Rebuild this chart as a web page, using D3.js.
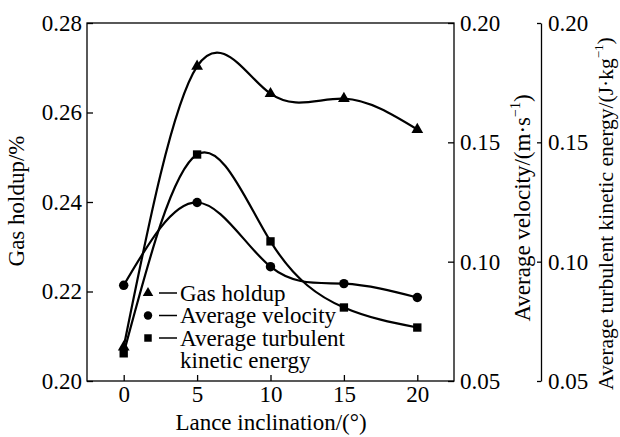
<!DOCTYPE html>
<html>
<head>
<meta charset="utf-8">
<script src="https://cdn.jsdelivr.net/npm/d3@7"></script>
<style>
  body { margin: 0; background: #fff; }
  svg text { font-family: "Liberation Serif", "Times New Roman", "DejaVu Serif", serif; fill: #000; }
</style>
</head>
<body>
<div id="chart"></div>
<script>
// lance inclination (deg)
const angles = [0, 5, 10, 15, 20];
// series values
const gasHoldup = [0.2076, 0.2703, 0.2642, 0.2631, 0.2562];
const avgVelocity = [0.0901, 0.1248, 0.0979, 0.0908, 0.0850];
const avgTke = [0.0616, 0.1449, 0.1085, 0.0808, 0.0724];

const xTicks = [0, 5, 10, 15, 20];
const leftTicks = [0.20, 0.22, 0.24, 0.26, 0.28];
const rightTicks = [0.05, 0.10, 0.15, 0.20];

const legendLabels = [["Gas holdup"], ["Average velocity"], ["Average turbulent", "kinetic energy"]];

const W = 620, H = 437;
const box = { left: 87, right: 454, top: 23, bottom: 381 };
const FS = 23;
const FONT = "'Liberation Serif', 'Times New Roman', 'DejaVu Serif', serif";

const svg = d3.select("#chart").append("svg")
    .attr("width", W).attr("height", H)
    .attr("viewBox", [0, 0, W, H])
    .attr("font-family", FONT);

const x = d3.scaleLinear().domain([-2.5, 22.5]).range([box.left, box.right]);
const yLeft = d3.scaleLinear().domain([0.20, 0.28]).range([box.bottom, box.top]);
const yRight = d3.scaleLinear().domain([0.05, 0.20]).range([box.bottom, box.top]);

const styleAxis = (g) => {
    g.attr("font-family", FONT).attr("font-size", FS);
    g.selectAll("text").attr("font-size", FS).attr("font-family", FONT).attr("fill", "#000");
    g.selectAll("line").attr("stroke", "#000").attr("stroke-width", 1.3);
    g.selectAll(".domain").attr("stroke", "#000").attr("stroke-width", 1.3);
};

// frame
svg.append("rect")
    .attr("x", box.left).attr("y", box.top)
    .attr("width", box.right - box.left).attr("height", box.bottom - box.top)
    .attr("fill", "none").attr("stroke", "#000").attr("stroke-width", 1.3);

// bottom axis
svg.append("g")
    .attr("transform", `translate(0,${box.bottom})`)
    .call(d3.axisBottom(x).tickValues(xTicks).tickSizeInner(-6).tickSizeOuter(0).tickPadding(5))
    .call(g => g.select(".domain").remove())
    .call(styleAxis);

// left axis
svg.append("g")
    .attr("transform", `translate(${box.left},0)`)
    .call(d3.axisLeft(yLeft).tickValues(leftTicks).tickFormat(d3.format(".2f"))
        .tickSizeInner(-6).tickSizeOuter(0).tickPadding(5))
    .call(g => g.select(".domain").remove())
    .call(styleAxis);

// right axis (velocity)
svg.append("g")
    .attr("transform", `translate(${box.right},0)`)
    .call(d3.axisRight(yRight).tickValues(rightTicks).tickFormat(d3.format(".2f"))
        .tickSizeInner(-6).tickSizeOuter(0).tickPadding(6))
    .call(g => g.select(".domain").remove())
    .call(styleAxis);

// far right axis (turbulent kinetic energy)
svg.append("g")
    .attr("transform", `translate(541,0)`)
    .call(d3.axisRight(yRight).tickValues(rightTicks).tickFormat(d3.format(".2f"))
        .tickSizeInner(-4).tickSizeOuter(0).tickPadding(7))
    .call(styleAxis);

// axis titles
svg.append("text")
    .attr("transform", "translate(16,201) rotate(-90)")
    .attr("text-anchor", "middle").attr("dy", "0.35em")
    .attr("font-size", FS)
    .text("Gas holdup/%");

svg.append("text")
    .attr("x", 271).attr("y", 430)
    .attr("text-anchor", "middle")
    .attr("font-size", FS)
    .text("Lance inclination/(°)");

const t1 = svg.append("text")
    .attr("transform", "translate(522,208) rotate(-90)")
    .attr("text-anchor", "middle").attr("dy", "0.35em")
    .attr("font-size", FS);
t1.append("tspan").text("Average velocity/(m·s");
t1.append("tspan").attr("font-size", 14).attr("dy", "-0.75em").text("−1");
t1.append("tspan").attr("dy", "0.45em").text(")");

// slightly smaller so the long title stays inside the picture
const t2 = svg.append("text")
    .attr("transform", "translate(605,390) rotate(-90)")
    .attr("text-anchor", "start").attr("dy", "0.35em")
    .attr("font-size", 21.5);
t2.append("tspan").text("Average turbulent kinetic energy/(J·kg");
t2.append("tspan").attr("font-size", 13).attr("dy", "-0.75em").text("−1");
t2.append("tspan").attr("dy", "0.45em").text(")");

// series
const series = [
    { values: gasHoldup, y: yLeft, symbol: d3.symbolTriangle, size: 60 },
    { values: avgVelocity, y: yRight, symbol: d3.symbolCircle, size: 70 },
    { values: avgTke, y: yRight, symbol: d3.symbolSquare, size: 70 }
];

series.forEach(s => {
    const pts = angles.map((a, i) => [a, s.values[i]]);
    const line = d3.line().curve(d3.curveNatural).x(d => x(d[0])).y(d => s.y(d[1]));
    svg.append("path")
        .attr("d", line(pts))
        .attr("fill", "none").attr("stroke", "#000").attr("stroke-width", 2.2);
    svg.append("g").selectAll("path").data(pts).join("path")
        .attr("transform", d => `translate(${x(d[0])},${s.y(d[1])})`)
        .attr("d", d3.symbol(s.symbol, s.size))
        .attr("fill", "#000");
});

// legend
const legend = svg.append("g");
const rowY = [293, 315.5, 338];
series.forEach((s, i) => {
    legend.append("path")
        .attr("transform", `translate(148,${rowY[i]})`)
        .attr("d", d3.symbol(s.symbol, s.size * 0.8))
        .attr("fill", "#000");
    legend.append("line")
        .attr("x1", 159).attr("x2", 177)
        .attr("y1", rowY[i]).attr("y2", rowY[i])
        .attr("stroke", "#000").attr("stroke-width", 1.5);
    legendLabels[i].forEach((lbl, j) => {
        legend.append("text")
            .attr("x", 180).attr("y", rowY[i] + 22.7 * j)
            .attr("dy", "0.33em")
            .attr("font-size", FS)
            .text(lbl);
    });
});
</script>
</body>
</html>
